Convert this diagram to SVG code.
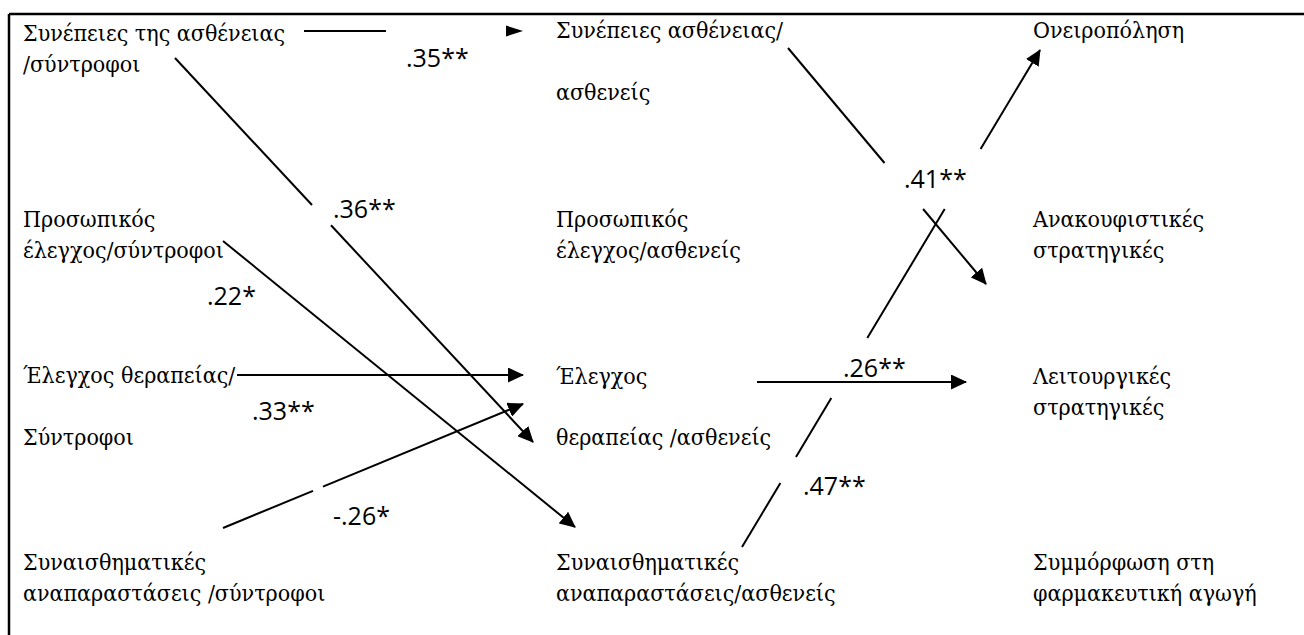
<svg xmlns="http://www.w3.org/2000/svg" width="1304" height="635" viewBox="0 0 1304 635">
<defs>
<style>
.t{font-family:"DejaVu Serif Condensed","DejaVu Serif","Liberation Serif",serif;font-stretch:condensed;font-size:23px;fill:#000}
.l{font-family:"Open Sans","Liberation Sans",sans-serif;font-size:25px;fill:#000}
.c{stroke:#000;stroke-width:2;fill:none}
.b{stroke:#000;stroke-width:2.5;fill:none}
</style>
<marker id="ah" markerUnits="userSpaceOnUse" markerWidth="16" markerHeight="15" viewBox="0 0 16 15" refX="15" refY="7.5" orient="auto">
<path d="M0,0 L16,7.5 L0,15 z" fill="#000"/>
</marker>
</defs>
<rect width="1304" height="635" fill="#fff"/>
<g id="frame">
<path class="b" d="M9,14 H1304 M9,14 V635"/>
</g>
<g id="n-sun-syn"><text class="t" x="23" y="41">Συνέπειες της ασθένειας</text><text class="t" x="23" y="72">/σύντροφοι</text></g>
<g id="n-pros-syn"><text class="t" x="23" y="227">Προσωπικός</text><text class="t" x="23" y="258">έλεγχος/σύντροφοι</text></g>
<g id="n-ther-syn"><text class="t" x="23" y="383">Έλεγχος θεραπείας/</text><text class="t" x="23" y="445">Σύντροφοι</text></g>
<g id="n-syna-syn"><text class="t" x="23" y="570">Συναισθηματικές</text><text class="t" x="23" y="601">αναπαραστάσεις /σύντροφοι</text></g>
<g id="n-sun-ast"><text class="t" x="556" y="38">Συνέπειες ασθένειας/</text><text class="t" x="556" y="100">ασθενείς</text></g>
<g id="n-pros-ast"><text class="t" x="556" y="227">Προσωπικός</text><text class="t" x="556" y="258">έλεγχος/ασθενείς</text></g>
<g id="n-ther-ast"><text class="t" x="556" y="384">Έλεγχος</text><text class="t" x="556" y="445">θεραπείας /ασθενείς</text></g>
<g id="n-syna-ast"><text class="t" x="556" y="570">Συναισθηματικές</text><text class="t" x="556" y="601">αναπαραστάσεις/ασθενείς</text></g>
<g id="n-oneir"><text class="t" x="1033" y="38">Ονειροπόληση</text></g>
<g id="n-anak"><text class="t" x="1033" y="227">Ανακουφιστικές</text><text class="t" x="1033" y="258">στρατηγικές</text></g>
<g id="n-leit"><text class="t" x="1033" y="384">Λειτουργικές</text><text class="t" x="1033" y="415">στρατηγικές</text></g>
<g id="n-symm"><text class="t" x="1033" y="570">Συμμόρφωση στη</text><text class="t" x="1033" y="601">φαρμακευτική αγωγή</text></g>
<g id="connectors">
<g id="e35"><path class="c" d="M304,31 H386"/><polygon points="506,25.5 523,31 506,36.5" fill="#000"/><text class="l" x="406" y="67">.35**</text></g>
<g id="e36"><path class="c" d="M175,58 L312,205"/><path class="c" d="M331,225.3 L533,442" marker-end="url(#ah)"/><text class="l" x="333" y="218">.36**</text></g>
<g id="e22"><path class="c" d="M223,241 L575,527" marker-end="url(#ah)"/><text class="l" x="207" y="305">.22*</text></g>
<g id="e33"><path class="c" d="M237,375 H523" marker-end="url(#ah)"/><text class="l" x="252" y="420">.33**</text></g>
<g id="e-26"><path class="c" d="M223,528 L313,490.8"/><path class="c" d="M323,486.7 L523,404" marker-end="url(#ah)"/><text class="l" x="333" y="525">-.26*</text></g>
<g id="e26"><path class="c" d="M757,382 H966" marker-end="url(#ah)"/><text class="l" x="843" y="377">.26**</text></g>
<g id="e41"><path class="c" d="M788,48 L884.5,163"/><path class="c" d="M923.1,209 L986,284" marker-end="url(#ah)"/><text class="l" x="904" y="188">.41**</text></g>
<g id="e47"><path class="c" d="M742,547 L780.4,483"/><path class="c" d="M796,457 L831.3,398"/><path class="c" d="M867.3,338 L944.7,209"/><path class="c" d="M980.6,149 L1040,50" marker-end="url(#ah)"/><text class="l" x="803" y="495">.47**</text></g>
</g>
</svg>
